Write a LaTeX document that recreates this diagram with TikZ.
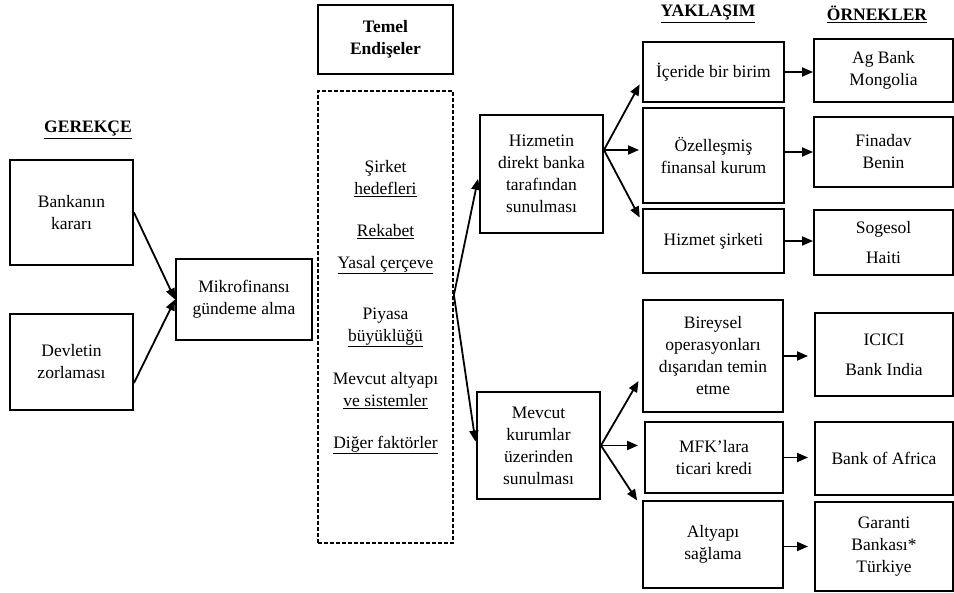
\documentclass[tikz,border=0pt]{standalone}
\usepackage{fontspec}
\setmainfont{Liberation Serif}
\usetikzlibrary{arrows.meta}

\newcommand{\basefont}{\fontsize{17.5}{22}\selectfont}

\tikzset{
  box/.style={draw, line width=1.9pt, align=center, inner sep=2pt},
  head/.style={font=\basefont\bfseries, align=center},
  txt/.style={align=center},
  conn/.style={->, line width=1.8pt},
}

\begin{document}
\begin{tikzpicture}[x=1pt, y=-1pt, font=\basefont, >={Triangle[length=11pt,width=9pt]}]
\useasboundingbox (0,0) rectangle (954,593);
% nodes

\node (gerekce) at (88, 130) [head] {\underline{GEREKÇE}};
\node (yaklasim) at (708, 14) [head] {\underline{YAKLAŞIM}};
\node (ornek) at (877, 14) [head] {\underline{ÖRNEKLER}};

\node (bank) at (71.5, 212.5) [box, minimum width=123pt, minimum height=105pt] {Bankanın\\kararı};
\node (state) at (71.5, 362) [box, minimum width=123pt, minimum height=96pt] {Devletin\\zorlaması};
\node (agenda) at (244, 299.5) [box, minimum width=136pt, minimum height=81pt] {Mikrofinansı\\gündeme alma};

\node (temel) at (385.5, 39.5) [box, head, minimum width=135pt, minimum height=69pt] {Temel\\Endişeler};
\node (dashbox) at (385.5, 317) [draw, line width=1.8pt, dash pattern=on 4pt off 2pt, minimum width=135pt, minimum height=452pt] {};
\node (goals) at (385.5, 178.5) [txt] {Şirket\\\underline{hedefleri}};
\node (rivalry) at (385.5, 232) [txt] {\underline{Rekabet}};
\node (legal) at (385.5, 265) [txt] {\underline{Yasal çerçeve}};
\node (market) at (385.5, 327.5) [txt] {Piyasa\\\underline{büyüklüğü}};
\node (infrasys) at (385.5, 391) [txt] {Mevcut altyapı\\\underline{ve sistemler}};
\node (other) at (385.5, 445) [txt] {\underline{Diğer faktörler}};

\node (direct) at (541.5, 174) [box, minimum width=123pt, minimum height=118pt] {Hizmetin\\direkt banka\\tarafından\\sunulması};
\node (inst) at (538.5, 445.5) [box, minimum width=123pt, minimum height=107pt] {Mevcut\\kurumlar\\üzerinden\\sunulması};

\node (unit) at (713.5, 72) [box, minimum width=141pt, minimum height=60pt] {İçeride bir birim};
\node (special) at (713.5, 155.5) [box, minimum width=141pt, minimum height=95pt] {Özelleşmiş\\finansal kurum};
\node (service) at (713.5, 241) [box, minimum width=141pt, minimum height=64pt] {Hizmet şirketi};
\node (outsrc) at (713, 356) [box, minimum width=140pt, minimum height=112pt] {Bireysel\\operasyonları\\dışarıdan temin\\etme};
\node (loan) at (714, 457.5) [box, minimum width=138pt, minimum height=71pt] {MFK’lara\\ticari kredi};
\node (infra) at (713, 544.5) [box, minimum width=140pt, minimum height=87pt] {Altyapı\\sağlama};

\node (agbank) at (883.5, 70.5) [box, minimum width=139pt, minimum height=63pt] {Ag Bank\\Mongolia};
\node (finadav) at (883.5, 152) [box, minimum width=139pt, minimum height=70pt] {Finadav\\Benin};
\node (sogesol) at (883.5, 242.5) [box, minimum width=139pt, minimum height=65pt] {Sogesol\\[8pt]Haiti};
\node (icici) at (884, 354.5) [box, minimum width=138pt, minimum height=83pt] {ICICI\\[8pt]Bank India};
\node (boa) at (884, 458.5) [box, minimum width=138pt, minimum height=73pt] {Bank of Africa};
\node (garanti) at (884, 546.5) [box, minimum width=138pt, minimum height=89pt] {Garanti\\Bankası*\\Türkiye};

\coordinate (split) at ([yshift=22pt]dashbox.east);
\coordinate (fork) at ([yshift=24pt]direct.east);

% arrows
\draw [conn] (bank.east) -- (agenda.west);
\draw [conn] ([yshift=-21pt]state.east) -- (agenda.west);

\draw [conn, shorten >=5pt] (split) -- (direct.west);
\draw [conn, shorten >=4pt] (split) -- (inst.west);

\draw [conn, shorten >=5pt] (fork) -- ([yshift=-8pt]unit.west);
\draw [conn, shorten >=3pt] (fork) -- (fork -| special.west);
\draw [conn, shorten >=5pt] (fork) -- ([yshift=19pt]service.west);

\draw [conn, shorten >=7pt] (inst.east) -- ([yshift=-19pt]outsrc.west);
\draw [conn, shorten >=6pt] (inst.east) -- (inst.east -| loan.west);
\draw [conn, shorten >=9pt] (inst.east) -- ([yshift=36.5pt]infra.west);

\draw [conn] (unit.east) -- (unit.east -| agbank.west);
\draw [conn] (special.east |- finadav.west) -- (finadav.west);
\draw [conn] (service.east) -- (service.east -| sogesol.west);
\draw [conn, shorten >=6pt] (outsrc.east) -- (outsrc.east -| icici.west);
\draw [conn, shorten >=6pt] (loan.east) -- (loan.east -| boa.west);
\draw [conn, shorten >=6pt] (infra.east |- garanti.west) -- (garanti.west);
\end{tikzpicture}
\end{document}
